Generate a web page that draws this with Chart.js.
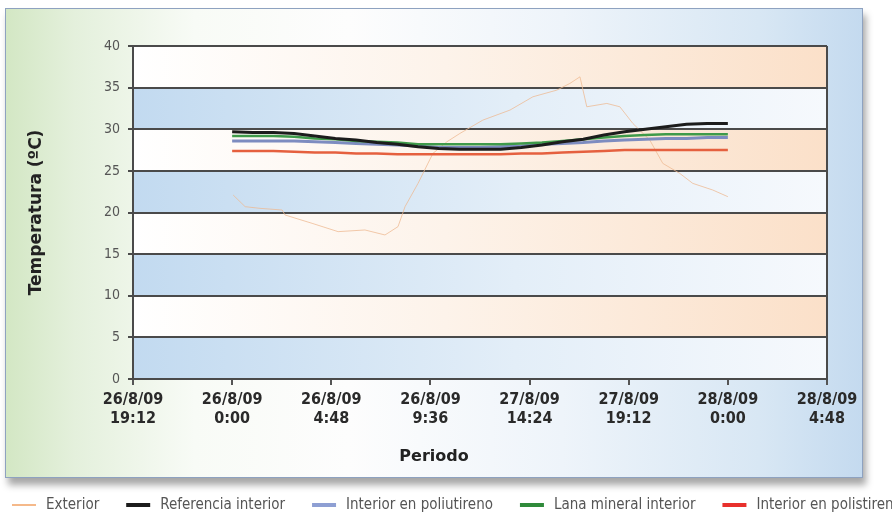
<!DOCTYPE html>
<html lang="es">
<head>
    <meta charset="UTF-8">
    <title>Temperatura</title>
    <script src="https://cdn.jsdelivr.net/npm/chart.js@4.4.1/dist/chart.umd.min.js"></script>
    <style>
        body { margin: 0; background: #fff; }
        .wrap { position: relative; width: 892px; height: 515px; overflow: hidden; }
        .panel {
            position: absolute; left: 5px; top: 8px; width: 856px; height: 468px;
            border: 1px solid #8ea2c0;
            background: linear-gradient(to right, #d3e7c4 0%, #e4f0dc 8%, #f8fbf6 22%, #fdfdfd 40%, #eef4fa 65%, #d8e7f4 88%, #c4daef 100%);
            box-shadow: 3px 7px 7px rgba(0, 0, 0, 0.35);
        }
        canvas { position: absolute; left: 0; top: 0; }
    </style>
</head>
<body>
<div class="wrap">
    <div class="panel"></div>
    <canvas id="tempChart" width="892" height="515"></canvas>
</div>

<script>
    // x positions in hours counted from the first tick (26/8/09 19:12)
    var tickHours = [0, 4.8, 9.6, 14.4, 19.2, 24, 28.8, 33.6];
    var tickLabels = [
        ['26/8/09', '19:12'], ['26/8/09', '0:00'], ['26/8/09', '4:48'], ['26/8/09', '9:36'],
        ['27/8/09', '14:24'], ['27/8/09', '19:12'], ['28/8/09', '0:00'], ['28/8/09', '4:48']
    ];

    var hours = [4.8, 5.8, 6.8, 7.8, 8.8, 9.8, 10.8, 11.8, 12.8, 13.8, 14.8, 15.8, 16.8,
                 17.8, 18.8, 19.8, 20.8, 21.8, 22.8, 23.8, 24.8, 25.8, 26.8, 27.8, 28.8];

    var referencia = [29.7, 29.6, 29.6, 29.5, 29.2, 28.9, 28.7, 28.4, 28.2, 27.9, 27.7, 27.6, 27.6,
                      27.6, 27.8, 28.1, 28.5, 28.8, 29.3, 29.7, 30.0, 30.3, 30.6, 30.7, 30.7];
    var poliuretano = [28.6, 28.6, 28.6, 28.6, 28.5, 28.4, 28.3, 28.2, 28.1, 28.0, 27.8, 27.8, 27.8,
                       27.9, 28.0, 28.2, 28.3, 28.4, 28.6, 28.7, 28.8, 28.9, 28.9, 29.0, 29.0];
    var lanaMineral = [29.2, 29.2, 29.2, 29.1, 28.9, 28.8, 28.6, 28.5, 28.4, 28.2, 28.2, 28.2, 28.2,
                       28.2, 28.3, 28.4, 28.6, 28.8, 29.0, 29.2, 29.3, 29.4, 29.4, 29.4, 29.4];
    var poliestireno = [27.4, 27.4, 27.4, 27.3, 27.2, 27.2, 27.1, 27.1, 27.0, 27.0, 27.0, 27.0, 27.0,
                        27.0, 27.1, 27.1, 27.2, 27.3, 27.4, 27.5, 27.5, 27.5, 27.5, 27.5, 27.5];

    var exteriorHours = [4.85, 5.43, 6.15, 7.22, 7.36, 8.67, 9.93, 11.23, 12.2, 12.83, 13.17, 13.8, 14.52,
                         15.2, 15.83, 16.94, 18.25, 19.36, 20.52, 21.15, 21.64, 21.97, 22.94, 23.57,
                         24.2, 25.02, 25.65, 26.47, 27.1, 28.07, 28.8];
    var exterior = [22.1, 20.7, 20.5, 20.3, 19.7, 18.7, 17.7, 17.9, 17.3, 18.3, 20.7, 23.5, 27.1,
                    28.5, 29.5, 31.1, 32.3, 33.9, 34.7, 35.5, 36.3, 32.7, 33.1, 32.7,
                    30.7, 28.7, 25.9, 24.7, 23.5, 22.7, 21.9];

    function points(xs, ys) {
        return xs.map(function (x, i) { return { x: x, y: ys[i] }; });
    }

    // background bands, right border, x title and legend
    var decor = {
        id: 'decor',
        beforeDraw: function (chart) {
            var ctx = chart.ctx, area = chart.chartArea, y = chart.scales.y;
            for (var v = 0; v < 40; v += 5) {
                var top = y.getPixelForValue(v + 5), bot = y.getPixelForValue(v);
                var g = ctx.createLinearGradient(area.left, 0, area.right, 0);
                if ((v / 5) % 2 === 0) {
                    g.addColorStop(0, '#c2daf0');
                    g.addColorStop(0.55, '#e3eef8');
                    g.addColorStop(1, '#f6f9fd');
                } else {
                    g.addColorStop(0, '#ffffff');
                    g.addColorStop(0.45, '#fdf3ea');
                    g.addColorStop(1, '#fbe0c9');
                }
                ctx.fillStyle = g;
                ctx.fillRect(area.left, top, area.right - area.left, bot - top);
            }
        },
        afterDraw: function (chart) {
            var ctx = chart.ctx, area = chart.chartArea;
            ctx.save();
            ctx.strokeStyle = '#4a4a4a';
            ctx.lineWidth = 2;
            ctx.beginPath();
            ctx.moveTo(area.right, area.top);
            ctx.lineTo(area.right, area.bottom);
            ctx.stroke();

            ctx.fillStyle = '#222';
            ctx.font = 'bold 16px "DejaVu Sans"';
            ctx.textAlign = 'center';
            ctx.textBaseline = 'middle';
            ctx.fillText('Periodo', 434, 457);

            // legend
            ctx.font = '15px "DejaVu Sans Condensed"';
            ctx.textAlign = 'left';
            var x = 12, ly = 505;
            chart.data.datasets.forEach(function (ds) {
                ctx.strokeStyle = ds.legendColor || ds.borderColor;
                ctx.lineWidth = ds.borderWidth < 2 ? 2 : 4;
                ctx.beginPath();
                ctx.moveTo(x, ly);
                ctx.lineTo(x + 24, ly);
                ctx.stroke();
                ctx.fillStyle = '#555';
                ctx.fillText(ds.label, x + 34, ly);
                x += 34 + ctx.measureText(ds.label).width + 27;
            });
            ctx.restore();
        }
    };

    var ctx = document.getElementById('tempChart').getContext('2d');
    var chart = new Chart(ctx, {
        type: 'line',
        data: {
            datasets: [
                { label: 'Exterior', data: points(exteriorHours, exterior), borderColor: 'rgba(238,184,144,0.75)',
                  legendColor: '#f5b98a', borderWidth: 1, order: 5 },
                { label: 'Referencia interior', data: points(hours, referencia), borderColor: '#1c1c1c',
                  borderWidth: 3, order: 1 },
                { label: 'Interior en poliutireno', data: points(hours, poliuretano), borderColor: '#7d8cc0',
                  legendColor: '#8e9fd3', borderWidth: 3, order: 3 },
                { label: 'Lana mineral interior', data: points(hours, lanaMineral), borderColor: '#3f9a4a',
                  legendColor: '#2f8a3a', borderWidth: 2.5, order: 2 },
                { label: 'Interior en polistireno', data: points(hours, poliestireno), borderColor: '#e5603f',
                  legendColor: '#e8302c', borderWidth: 2.5, order: 4 }
            ]
        },
        options: {
            responsive: false,
            animation: false,
            elements: { point: { radius: 0 }, line: { tension: 0 } },
            layout: { padding: { top: 46, right: 65, bottom: 36, left: 0 } },
            plugins: {
                legend: { display: false },
                tooltip: { enabled: false }
            },
            scales: {
                x: {
                    type: 'linear',
                    min: 0,
                    max: 33.6,
                    afterBuildTicks: function (s) {
                        s.ticks = tickHours.map(function (v) { return { value: v }; });
                    },
                    afterFit: function (s) { s.height = 100; },
                    ticks: {
                        autoSkip: false,
                        maxRotation: 0,
                        padding: 6,
                        color: '#2a2a2a',
                        font: { family: '"DejaVu Sans Condensed"', size: 16, weight: 'bold', lineHeight: 1.15 },
                        callback: function (v, i) { return tickLabels[i]; }
                    },
                    grid: { drawOnChartArea: false, color: '#555', lineWidth: 2, tickLength: 6 },
                    border: { display: true, color: '#4a4a4a', width: 2 }
                },
                y: {
                    min: 0,
                    max: 40,
                    afterFit: function (s) { s.width = 133; },
                    ticks: {
                        stepSize: 5,
                        padding: 8,
                        color: '#555',
                        font: { family: '"DejaVu Sans Condensed"', size: 14 }
                    },
                    grid: { color: '#4a4a4a', lineWidth: 2, tickLength: 5 },
                    border: { display: true, color: '#4a4a4a', width: 2 },
                    title: {
                        display: true,
                        text: 'Temperatura (ºC)',
                        color: '#222',
                        font: { family: '"DejaVu Sans"', size: 17, weight: 'bold' },
                        padding: { top: 26, bottom: 0 }
                    }
                }
            }
        },
        plugins: [decor]
    });
</script>
</body>
</html>
